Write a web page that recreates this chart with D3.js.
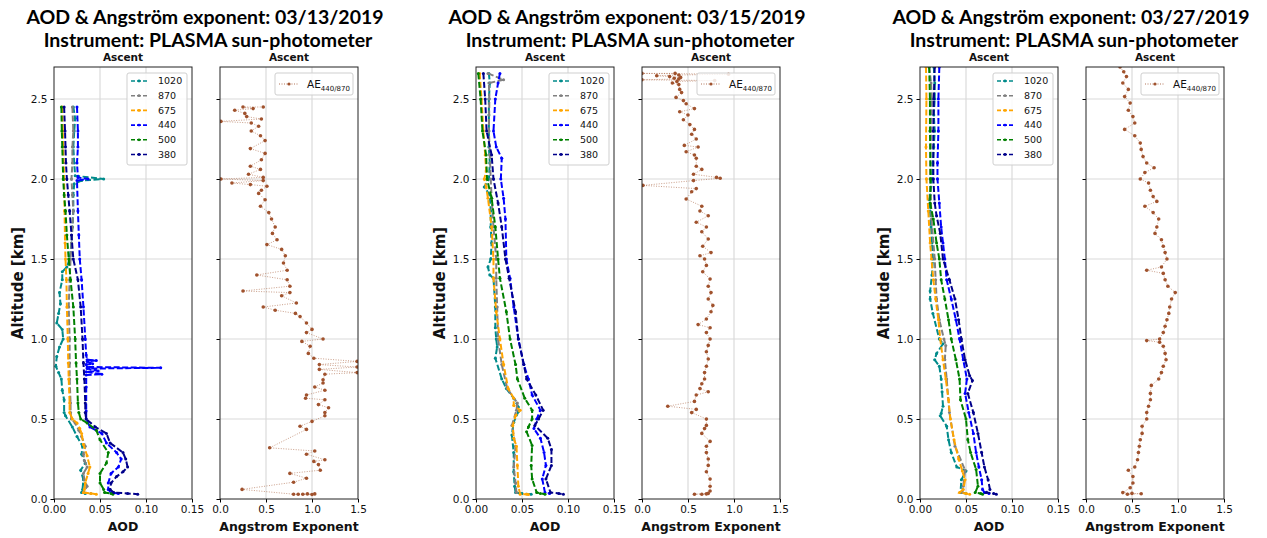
<!DOCTYPE html>
<html>
<head>
<meta charset="utf-8">
<script src="https://cdn.jsdelivr.net/npm/d3@7"></script>
<style>
  body { margin: 0; background: #fff; }
  svg text { font-family: "DejaVu Sans", sans-serif; fill: #111; }
  .title { font-family: Lato, "Open Sans", sans-serif; font-weight: 700; font-size: 19.5px; fill: #000; }
  .subtitle { font-weight: 700; font-size: 10.5px; }
  .axis-label { font-weight: 700; font-size: 12.5px; }
  .grid line { stroke: #dadada; stroke-width: 1.2; }
</style>
</head>
<body>
<svg id="chart" width="1267" height="538"></svg>
<script>
// ---- data: [altitude km, value] ----
const wavelengths = ["1020", "870", "675", "440", "500", "380"];
const wlColors = ["darkcyan", "gray", "orange", "blue", "green", "darkblue"];
const dates = ["03/13/2019", "03/15/2019", "03/27/2019"];
const aodTicks = [0, 0.05, 0.1, 0.15];
const aeTicks = [0, 0.5, 1.0, 1.5];
const altTicks = [0, 0.5, 1.0, 1.5, 2.0, 2.5];

// 03/13/2019
const aod0313_1020 = [[2.45,0.021],[2.38,0.023],[2.3,0.022],[2.2,0.021],[2.1,0.022],[2.02,0.023],[2.0,0.054],[1.99,0.030],[1.97,0.022],[1.9,0.021],[1.8,0.021],[1.7,0.020],[1.6,0.019],[1.5,0.017],[1.45,0.014],[1.42,0.009],[1.37,0.009],[1.29,0.006],[1.22,0.007],[1.16,0.005],[1.1,0.003],[1.06,0.009],[1.0,0.010],[0.95,0.006],[0.89,0.003],[0.83,0.002],[0.79,0.005],[0.75,0.008],[0.68,0.009],[0.62,0.011],[0.54,0.011],[0.52,0.0125],[0.45,0.020],[0.39,0.025],[0.33,0.031],[0.28,0.030],[0.225,0.034],[0.18,0.029],[0.12,0.032],[0.06,0.031],[0.04,0.030],[0.035,0.034]];
const aod0313_870 = [[2.45,0.020],[2.3,0.021],[2.2,0.020],[2.1,0.020],[2.0,0.019],[1.9,0.020],[1.8,0.021],[1.7,0.020],[1.6,0.019],[1.5,0.018],[1.37,0.017],[1.2,0.016],[1.0,0.017],[0.85,0.017],[0.75,0.017],[0.6,0.018],[0.54,0.018],[0.5,0.019],[0.475,0.023],[0.43,0.027],[0.39,0.030],[0.33,0.034],[0.28,0.032],[0.24,0.033],[0.2,0.036],[0.16,0.032],[0.12,0.033],[0.08,0.036],[0.04,0.032],[0.035,0.040]];
const aod0313_675 = [[2.45,0.009],[2.3,0.0095],[2.2,0.010],[2.0,0.011],[1.8,0.0115],[1.6,0.012],[1.5,0.0125],[1.37,0.0135],[1.2,0.014],[1.0,0.015],[0.85,0.0155],[0.75,0.016],[0.6,0.017],[0.54,0.017],[0.5,0.020],[0.475,0.025],[0.44,0.028],[0.41,0.030],[0.34,0.032],[0.27,0.036],[0.2,0.039],[0.16,0.037],[0.1,0.034],[0.06,0.033],[0.04,0.032],[0.035,0.040],[0.03,0.046]];
const aod0313_440 = [[2.45,0.025],[2.3,0.026],[2.2,0.026],[2.1,0.025],[2.01,0.026],[2.0,0.037],[1.99,0.025],[1.8,0.026],[1.65,0.027],[1.5,0.028],[1.37,0.030],[1.2,0.032],[1.0,0.034],[0.9,0.035],[0.87,0.036],[0.865,0.046],[0.86,0.036],[0.845,0.042],[0.84,0.035],[0.825,0.036],[0.82,0.116],[0.815,0.036],[0.8,0.048],[0.795,0.035],[0.78,0.052],[0.775,0.035],[0.7,0.035],[0.55,0.035],[0.5,0.035],[0.45,0.039],[0.41,0.052],[0.35,0.057],[0.29,0.068],[0.25,0.073],[0.2,0.070],[0.16,0.062],[0.1,0.059],[0.06,0.059],[0.04,0.062],[0.035,0.070]];
const aod0313_500 = [[2.45,0.008],[2.3,0.0085],[2.2,0.009],[2.0,0.010],[1.9,0.011],[1.8,0.0125],[1.65,0.014],[1.5,0.016],[1.37,0.018],[1.2,0.021],[1.0,0.023],[0.85,0.024],[0.75,0.025],[0.6,0.026],[0.54,0.027],[0.5,0.029],[0.475,0.036],[0.43,0.046],[0.37,0.050],[0.29,0.059],[0.225,0.057],[0.16,0.050],[0.1,0.050],[0.06,0.054],[0.04,0.055],[0.035,0.062],[0.03,0.064]];
const aod0313_380 = [[2.45,0.011],[2.3,0.012],[2.2,0.0125],[2.1,0.013],[2.0,0.014],[1.9,0.0155],[1.8,0.017],[1.65,0.019],[1.5,0.021],[1.37,0.026],[1.2,0.029],[1.0,0.031],[0.85,0.032],[0.75,0.033],[0.6,0.034],[0.54,0.034],[0.5,0.035],[0.45,0.045],[0.41,0.057],[0.35,0.061],[0.29,0.075],[0.25,0.078],[0.2,0.080],[0.17,0.075],[0.14,0.068],[0.1,0.062],[0.06,0.061],[0.04,0.065],[0.035,0.080],[0.03,0.091]];
const ae0313 = [[2.45,0.47],[2.45,0.25],[2.44,0.36],[2.43,0.16],[2.41,0.27],[2.39,0.29],[2.375,0.45],[2.36,0.01],[2.35,0.34],[2.33,0.42],[2.30,0.34],[2.27,0.44],[2.24,0.49],[2.19,0.33],[2.16,0.49],[2.12,0.45],[2.08,0.33],[2.06,0.44],[2.03,0.31],[2.01,0.47],[2.0,0.01],[1.99,0.47],[1.975,0.13],[1.965,0.33],[1.955,0.51],[1.93,0.45],[1.91,0.42],[1.87,0.49],[1.83,0.44],[1.79,0.53],[1.75,0.56],[1.70,0.60],[1.66,0.57],[1.62,0.62],[1.59,0.51],[1.56,0.67],[1.52,0.71],[1.475,0.69],[1.43,0.73],[1.40,0.40],[1.37,0.73],[1.33,0.76],[1.30,0.25],[1.29,0.76],[1.27,0.67],[1.225,0.83],[1.20,0.47],[1.18,0.60],[1.16,0.82],[1.14,0.87],[1.10,0.94],[1.06,1.00],[1.04,0.94],[1.0,1.12],[0.985,0.89],[0.955,0.98],[0.91,0.96],[0.88,1.02],[0.86,1.49],[0.84,1.08],[0.825,1.49],[0.81,1.08],[0.79,1.49],[0.78,1.14],[0.745,1.12],[0.725,1.12],[0.70,1.03],[0.68,1.14],[0.65,0.94],[0.63,0.93],[0.62,1.14],[0.59,1.07],[0.57,1.18],[0.54,1.14],[0.52,1.14],[0.485,1.00],[0.455,0.87],[0.435,0.94],[0.32,0.54],[0.30,1.03],[0.28,0.94],[0.245,1.14],[0.235,1.02],[0.215,1.07],[0.18,1.09],[0.16,0.76],[0.13,0.94],[0.105,0.80],[0.06,0.24],[0.03,0.80],[0.03,0.85],[0.032,0.95],[0.028,1.00],[0.03,0.90],[0.032,1.03]];

// 03/15/2019
const aod0315_1020 = [[2.66,0.014],[2.6,0.015],[2.5,0.014],[2.4,0.014],[2.3,0.014],[2.2,0.014],[2.1,0.015],[2.0,0.014],[1.95,0.009],[1.9,0.015],[1.8,0.016],[1.7,0.016],[1.6,0.017],[1.5,0.016],[1.45,0.013],[1.4,0.015],[1.38,0.019],[1.2,0.021],[1.07,0.021],[1.0,0.022],[0.95,0.023],[0.88,0.021],[0.75,0.028],[0.69,0.033],[0.63,0.041],[0.575,0.046],[0.545,0.046],[0.48,0.041],[0.4,0.039],[0.29,0.041],[0.17,0.041],[0.08,0.042],[0.04,0.043],[0.035,0.050],[0.03,0.060]];
const aod0315_870 = [[2.66,0.013],[2.62,0.030],[2.6,0.014],[2.5,0.0145],[2.3,0.014],[2.15,0.015],[2.0,0.016],[1.88,0.017],[1.7,0.019],[1.5,0.022],[1.38,0.022],[1.2,0.023],[1.0,0.024],[0.84,0.028],[0.69,0.034],[0.6,0.045],[0.555,0.044],[0.46,0.039],[0.33,0.043],[0.2,0.041],[0.1,0.043],[0.04,0.044]];
const aod0315_675 = [[2.66,0.004],[2.5,0.006],[2.3,0.008],[2.15,0.010],[2.05,0.011],[2.0,0.009],[1.95,0.011],[1.88,0.013],[1.7,0.017],[1.5,0.019],[1.38,0.019],[1.17,0.022],[1.0,0.026],[0.84,0.030],[0.69,0.035],[0.63,0.041],[0.585,0.041],[0.555,0.048],[0.52,0.043],[0.46,0.040],[0.38,0.041],[0.33,0.044],[0.21,0.045],[0.08,0.046],[0.03,0.048],[0.03,0.055],[0.028,0.057]];
const aod0315_440 = [[2.66,0.026],[2.6,0.024],[2.5,0.021],[2.3,0.019],[2.2,0.022],[2.13,0.028],[2.0,0.027],[1.88,0.030],[1.75,0.032],[1.5,0.033],[1.38,0.037],[1.2,0.041],[1.0,0.046],[0.84,0.052],[0.75,0.057],[0.65,0.061],[0.555,0.070],[0.5,0.066],[0.44,0.063],[0.38,0.070],[0.29,0.074],[0.21,0.076],[0.125,0.072],[0.04,0.075],[0.035,0.080]];
const aod0315_500 = [[2.66,0.0025],[2.5,0.005],[2.3,0.007],[2.15,0.011],[2.0,0.012],[1.88,0.017],[1.7,0.021],[1.5,0.024],[1.38,0.026],[1.17,0.033],[1.0,0.037],[0.84,0.043],[0.75,0.045],[0.63,0.053],[0.555,0.061],[0.5,0.061],[0.45,0.057],[0.42,0.055],[0.335,0.061],[0.21,0.060],[0.125,0.061],[0.04,0.066],[0.035,0.070],[0.03,0.075]];
const aod0315_380 = [[2.66,0.008],[2.5,0.010],[2.3,0.0115],[2.15,0.017],[2.0,0.019],[1.85,0.024],[1.7,0.028],[1.5,0.032],[1.38,0.036],[1.17,0.043],[1.0,0.046],[0.84,0.052],[0.75,0.055],[0.65,0.065],[0.555,0.073],[0.5,0.068],[0.46,0.064],[0.38,0.078],[0.31,0.082],[0.21,0.082],[0.125,0.076],[0.04,0.081],[0.035,0.090],[0.03,0.095]];
const ae0315 = [[2.66,0.36],[2.66,0.0],[2.655,0.94],[2.65,0.40],[2.645,0.16],[2.64,0.30],[2.635,0.42],[2.63,0.35],[2.625,0.40],[2.62,0.0],[2.615,0.79],[2.61,0.38],[2.60,0.33],[2.59,0.40],[2.56,0.41],[2.54,0.43],[2.51,0.37],[2.49,0.45],[2.47,0.48],[2.44,0.57],[2.42,0.41],[2.40,0.50],[2.37,0.45],[2.34,0.52],[2.31,0.57],[2.28,0.54],[2.25,0.59],[2.21,0.46],[2.20,0.61],[2.17,0.48],[2.15,0.57],[2.13,0.59],[2.08,0.59],[2.06,0.65],[2.03,0.56],[2.01,0.81],[2.005,0.85],[1.99,0.56],[1.96,0.01],[1.94,0.59],[1.92,0.54],[1.875,0.48],[1.83,0.65],[1.80,0.63],[1.77,0.72],[1.73,0.59],[1.70,0.70],[1.67,0.65],[1.625,0.72],[1.58,0.66],[1.54,0.75],[1.52,0.63],[1.50,0.68],[1.46,0.70],[1.42,0.66],[1.375,0.74],[1.33,0.72],[1.29,0.75],[1.25,0.72],[1.21,0.77],[1.17,0.75],[1.125,0.70],[1.09,0.61],[1.07,0.74],[1.04,0.70],[1.0,0.74],[0.96,0.72],[0.92,0.70],[0.875,0.72],[0.83,0.70],[0.79,0.68],[0.75,0.68],[0.72,0.65],[0.69,0.63],[0.67,0.72],[0.65,0.59],[0.61,0.57],[0.58,0.28],[0.56,0.59],[0.54,0.54],[0.5,0.70],[0.46,0.70],[0.44,0.68],[0.41,0.65],[0.36,0.74],[0.33,0.70],[0.29,0.70],[0.25,0.72],[0.21,0.72],[0.17,0.70],[0.125,0.74],[0.08,0.74],[0.05,0.74],[0.035,0.72],[0.03,0.57],[0.03,0.65],[0.032,0.70]];

// 03/27/2019
const aod0327_1020 = [[2.7,0.015],[2.6,0.016],[2.5,0.016],[2.4,0.015],[2.3,0.016],[2.2,0.015],[2.1,0.014],[2.0,0.013],[1.9,0.011],[1.87,0.010],[1.8,0.011],[1.7,0.012],[1.6,0.013],[1.5,0.014],[1.4,0.013],[1.3,0.011],[1.25,0.011],[1.16,0.014],[1.0,0.021],[0.97,0.025],[0.91,0.018],[0.87,0.016],[0.83,0.021],[0.75,0.023],[0.67,0.024],[0.58,0.025],[0.535,0.023],[0.52,0.022],[0.455,0.029],[0.37,0.031],[0.29,0.034],[0.2,0.040],[0.175,0.050],[0.12,0.045],[0.04,0.044],[0.035,0.050]];
const aod0327_870 = [[2.7,0.010],[2.6,0.012],[2.5,0.013],[2.3,0.012],[2.0,0.011],[1.75,0.0125],[1.5,0.016],[1.37,0.017],[1.25,0.018],[1.12,0.021],[1.0,0.026],[0.96,0.028],[0.87,0.027],[0.75,0.029],[0.54,0.032],[0.33,0.038],[0.18,0.049],[0.08,0.047],[0.04,0.046]];
const aod0327_675 = [[2.7,0.0065],[2.5,0.007],[2.2,0.0065],[2.0,0.007],[1.8,0.009],[1.6,0.011],[1.5,0.0125],[1.37,0.0145],[1.25,0.017],[1.12,0.020],[1.0,0.022],[0.87,0.025],[0.75,0.028],[0.62,0.031],[0.5,0.033],[0.37,0.037],[0.25,0.042],[0.175,0.046],[0.12,0.049],[0.06,0.047],[0.04,0.043],[0.035,0.050],[0.03,0.054]];
const aod0327_440 = [[2.7,0.021],[2.5,0.020],[2.3,0.020],[2.1,0.019],[2.0,0.019],[1.85,0.021],[1.7,0.023],[1.6,0.025],[1.5,0.027],[1.37,0.029],[1.25,0.034],[1.12,0.039],[1.0,0.043],[0.87,0.047],[0.75,0.051],[0.66,0.049],[0.54,0.053],[0.41,0.058],[0.29,0.061],[0.2,0.064],[0.12,0.067],[0.06,0.068],[0.04,0.070],[0.035,0.075]];
const aod0327_500 = [[2.7,0.010],[2.5,0.0108],[2.3,0.0108],[2.0,0.0115],[1.85,0.011],[1.75,0.0145],[1.6,0.018],[1.5,0.021],[1.37,0.023],[1.25,0.027],[1.12,0.031],[1.0,0.034],[0.87,0.039],[0.75,0.043],[0.62,0.044],[0.5,0.050],[0.37,0.052],[0.29,0.055],[0.185,0.061],[0.08,0.063],[0.04,0.060],[0.035,0.066],[0.03,0.068]];
const aod0327_380 = [[2.7,0.016],[2.5,0.015],[2.3,0.0145],[2.0,0.0145],[1.85,0.016],[1.77,0.018],[1.66,0.022],[1.5,0.025],[1.37,0.032],[1.25,0.038],[1.12,0.042],[1.0,0.045],[0.87,0.049],[0.77,0.054],[0.74,0.057],[0.66,0.052],[0.54,0.058],[0.41,0.063],[0.29,0.067],[0.2,0.070],[0.12,0.074],[0.06,0.076],[0.04,0.072],[0.035,0.080],[0.03,0.083]];
const ae0327 = [[2.7,0.37],[2.67,0.41],[2.64,0.44],[2.6,0.40],[2.56,0.46],[2.515,0.42],[2.475,0.48],[2.43,0.46],[2.39,0.51],[2.35,0.53],[2.31,0.42],[2.27,0.53],[2.225,0.59],[2.185,0.60],[2.14,0.62],[2.1,0.66],[2.07,0.74],[2.04,0.64],[2.0,0.59],[1.975,0.68],[1.93,0.70],[1.89,0.73],[1.86,0.77],[1.83,0.64],[1.79,0.73],[1.75,0.79],[1.70,0.77],[1.66,0.75],[1.62,0.82],[1.58,0.84],[1.54,0.86],[1.5,0.88],[1.45,0.82],[1.43,0.66],[1.41,0.84],[1.37,0.86],[1.33,0.89],[1.29,0.97],[1.25,0.93],[1.2,0.91],[1.16,0.90],[1.12,0.88],[1.08,0.86],[1.04,0.84],[1.0,0.80],[0.99,0.66],[0.98,0.80],[0.955,0.84],[0.91,0.86],[0.87,0.87],[0.83,0.84],[0.79,0.82],[0.75,0.79],[0.71,0.71],[0.66,0.70],[0.62,0.70],[0.58,0.68],[0.54,0.66],[0.5,0.66],[0.455,0.61],[0.41,0.61],[0.37,0.59],[0.33,0.58],[0.29,0.57],[0.245,0.56],[0.2,0.53],[0.18,0.46],[0.14,0.51],[0.1,0.51],[0.07,0.48],[0.04,0.40],[0.035,0.50],[0.033,0.60],[0.03,0.45]];

const panels = [
  { date: dates[0], aod: [aod0313_1020, aod0313_870, aod0313_675, aod0313_440, aod0313_500, aod0313_380], ae: ae0313 },
  { date: dates[1], aod: [aod0315_1020, aod0315_870, aod0315_675, aod0315_440, aod0315_500, aod0315_380], ae: ae0315 },
  { date: dates[2], aod: [aod0327_1020, aod0327_870, aod0327_675, aod0327_440, aod0327_500, aod0327_380], ae: ae0327 },
];

// ---- layout ----
const plot = { top: 67, bottom: 499, width: 138, gap: 28 };
const panelLefts = [54, 476, 920];
const aeColor = "sienna";

const svg = d3.select("#chart");
const y = d3.scaleLinear().domain([0, 2.7]).range([plot.bottom, plot.top]);

panels.forEach((p, i) => renderPanel(p, panelLefts[i], i));

function renderPanel(panel, left, idx) {
  const xAod = d3.scaleLinear().domain([0, 0.15]).range([left, left + plot.width]);
  const aeLeft = left + plot.width + plot.gap;
  const xAe = d3.scaleLinear().domain([0, 1.5]).range([aeLeft, aeLeft + plot.width]);
  const center = (left + aeLeft + plot.width) / 2;

  svg.append("text").attr("class", "title").attr("text-anchor", "middle")
    .attr("x", center - 1).attr("y", 23.5).text(`AOD & Angström exponent: ${panel.date}`);
  svg.append("text").attr("class", "title").attr("text-anchor", "middle")
    .attr("x", center + 2).attr("y", 47).text("Instrument: PLASMA sun-photometer");

  // AOD axes
  const gA = svg.append("g");
  axesFrame(gA, xAod, aodTicks, ".2f", "AOD", true, `clip-aod-${idx}`);
  const line = d3.line().x((d) => xAod(d[1])).y((d) => y(d[0]));
  const series = gA.append("g").attr("clip-path", `url(#clip-aod-${idx})`);
  panel.aod.forEach((data, k) => {
    series.append("path")
      .datum(data)
      .attr("d", line)
      .attr("fill", "none")
      .attr("stroke", wlColors[k])
      .attr("stroke-width", 2)
      .attr("stroke-dasharray", "6,2.5");
    series.append("g")
      .selectAll("circle")
      .data(data)
      .join("circle")
      .attr("cx", (d) => xAod(d[1]))
      .attr("cy", (d) => y(d[0]))
      .attr("r", 1.5)
      .attr("fill", wlColors[k]);
  });
  gA.append("text")
    .attr("x", left - 31)
    .attr("y", (plot.top + plot.bottom) / 2)
    .attr("transform", `rotate(-90,${left - 31},${(plot.top + plot.bottom) / 2})`)
    .attr("text-anchor", "middle")
    .attr("font-weight", 700)
    .attr("font-size", 15)
    .text("Altitude [km]");
  outline(gA, xAod);

  // legend AOD
  const lg = gA.append("g").attr("transform", `translate(${left + plot.width - 65},73)`);
  lg.append("rect").attr("width", 60).attr("height", 92).attr("rx", 2)
    .attr("fill", "#fff").attr("fill-opacity", 0.85).attr("stroke", "#cfcfcf");
  wavelengths.forEach((w, k) => {
    const ry = 8 + k * 14.7;
    lg.append("line").attr("x1", 4).attr("x2", 20).attr("y1", ry).attr("y2", ry)
      .attr("stroke", wlColors[k]).attr("stroke-width", 1.6).attr("stroke-dasharray", "4,2");
    lg.append("circle").attr("cx", 12).attr("cy", ry).attr("r", 1.4).attr("fill", wlColors[k]);
    lg.append("text").attr("x", 31).attr("y", ry).attr("dy", "0.35em")
      .attr("font-size", 9.5).text(w);
  });

  // AE axes
  const gE = svg.append("g");
  axesFrame(gE, xAe, aeTicks, ".1f", "Angstrom Exponent", false, `clip-ae-${idx}`);
  const aeLine = d3.line().x((d) => xAe(d[1])).y((d) => y(d[0]));
  const aeG = gE.append("g").attr("clip-path", `url(#clip-ae-${idx})`);
  aeG.append("path")
    .datum(panel.ae)
    .attr("d", aeLine)
    .attr("fill", "none")
    .attr("stroke", aeColor)
    .attr("stroke-opacity", 0.7)
    .attr("stroke-width", 0.8)
    .attr("stroke-dasharray", "1,1.5");
  aeG.selectAll("circle")
    .data(panel.ae)
    .join("circle")
    .attr("cx", (d) => xAe(d[1]))
    .attr("cy", (d) => y(d[0]))
    .attr("r", 1.8)
    .attr("fill", aeColor);
  outline(gE, xAe);

  const le = gE.append("g").attr("transform", `translate(${aeLeft + plot.width - 83},73)`);
  le.append("rect").attr("width", 78).attr("height", 22).attr("rx", 2)
    .attr("fill", "#fff").attr("fill-opacity", 0.85).attr("stroke", "#cfcfcf");
  le.append("line").attr("x1", 4).attr("x2", 24).attr("y1", 11).attr("y2", 11)
    .attr("stroke", aeColor).attr("stroke-width", 0.8).attr("stroke-dasharray", "1,1.5");
  le.append("circle").attr("cx", 14).attr("cy", 11).attr("r", 1.6).attr("fill", aeColor);
  const lt = le.append("text").attr("x", 32).attr("y", 11).attr("dy", "0.35em").attr("font-size", 10.5);
  lt.append("tspan").text("AE");
  lt.append("tspan").attr("dy", 3).attr("font-size", 7).text("440/870");
}

function axesFrame(g, x, xTicks, fmt, label, yLabels, clipId) {
  const [x0, x1] = x.range();
  g.append("clipPath").attr("id", clipId)
    .append("rect").attr("x", x0).attr("y", plot.top).attr("width", x1 - x0).attr("height", plot.bottom - plot.top);

  const grid = g.append("g").attr("class", "grid");
  grid.selectAll(".gx").data(xTicks.slice(1, -1)).join("line").attr("class", "gx")
    .attr("x1", (d) => x(d)).attr("x2", (d) => x(d)).attr("y1", plot.top).attr("y2", plot.bottom);
  grid.selectAll(".gy").data(altTicks.slice(1)).join("line").attr("class", "gy")
    .attr("x1", x0).attr("x2", x1).attr("y1", (d) => y(d)).attr("y2", (d) => y(d));

  g.append("g")
    .attr("transform", `translate(0,${plot.bottom})`)
    .call(d3.axisBottom(x).tickValues(xTicks).tickFormat(d3.format(fmt)).tickSize(3.5).tickPadding(3.5).tickSizeOuter(0))
    .call((a) => a.select(".domain").remove())
    .call((a) => a.selectAll("text").attr("font-size", 10.5).attr("font-family", "DejaVu Sans").attr("fill", "#222"));

  g.append("g")
    .attr("transform", `translate(${x0},0)`)
    .call(d3.axisLeft(y).tickValues(altTicks).tickFormat(yLabels ? d3.format(".1f") : () => "").tickSize(3.5).tickPadding(3).tickSizeOuter(0))
    .call((a) => a.select(".domain").remove())
    .call((a) => a.selectAll("text").attr("font-size", 10.5).attr("font-family", "DejaVu Sans").attr("fill", "#222"));

  g.append("text").attr("class", "axis-label")
    .attr("x", (x0 + x1) / 2).attr("y", 531).attr("text-anchor", "middle").text(label);
  g.append("text").attr("class", "subtitle")
    .attr("x", (x0 + x1) / 2).attr("y", 61).attr("text-anchor", "middle").text("Ascent");
}

function outline(g, x) {
  const [x0, x1] = x.range();
  g.append("rect").attr("x", x0).attr("y", plot.top).attr("width", x1 - x0).attr("height", plot.bottom - plot.top)
    .attr("fill", "none").attr("stroke", "#222").attr("stroke-width", 1);
}
</script>
</body>
</html>
